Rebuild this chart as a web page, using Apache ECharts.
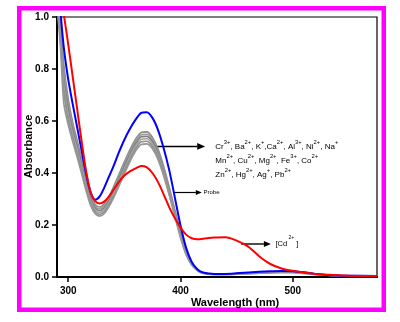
<!DOCTYPE html>
<html>
<head>
<meta charset="utf-8">
<script src="https://cdn.jsdelivr.net/npm/echarts@6/dist/echarts.min.js"></script>
<style>
  html, body { margin: 0; padding: 0; background: #fff; }
  #chart { width: 400px; height: 322px; }
</style>
</head>
<body>
<div id="chart"></div>
<script>
// Wavelength grid (nm) shared by every spectrum
const wavelengths = [290, 293, 296, 300, 304, 308, 312, 316, 320, 324, 328, 332, 336, 340, 345, 350, 355, 360, 365, 370, 375, 380, 385, 390, 395, 400, 405, 410, 415, 420, 430, 440, 450, 460, 470, 480, 490, 500, 510, 520, 535, 550, 575];

// Free probe
const probe = [1.22, 1.03, 0.885, 0.76, 0.665, 0.575, 0.485, 0.395, 0.325, 0.297, 0.31, 0.343, 0.383, 0.423, 0.478, 0.528, 0.57, 0.605, 0.631, 0.634, 0.612, 0.565, 0.495, 0.41, 0.305, 0.198, 0.112, 0.058, 0.03, 0.017, 0.012, 0.012, 0.014, 0.017, 0.02, 0.022, 0.023, 0.022, 0.018, 0.012, 0.007, 0.005, 0.004];

// Probe + Cd2+
const cdComplex = [1.2, 1.1, 1.012, 0.895, 0.77, 0.645, 0.52, 0.405, 0.325, 0.292, 0.283, 0.29, 0.308, 0.333, 0.365, 0.39, 0.406, 0.418, 0.427, 0.422, 0.4, 0.365, 0.318, 0.268, 0.226, 0.19, 0.163, 0.149, 0.145, 0.147, 0.152, 0.153, 0.14, 0.118, 0.08, 0.05, 0.033, 0.024, 0.017, 0.012, 0.008, 0.005, 0.004];

// Probe + the other metal ions
const ionSet1 = [1.14, 0.99, 0.82, 0.685, 0.595, 0.525, 0.455, 0.38, 0.315, 0.279, 0.269, 0.281, 0.308, 0.343, 0.393, 0.443, 0.49, 0.53, 0.556, 0.558, 0.537, 0.492, 0.425, 0.345, 0.258, 0.172, 0.098, 0.052, 0.028, 0.017, 0.012, 0.012, 0.013, 0.015, 0.017, 0.019, 0.02, 0.02, 0.017, 0.012, 0.007, 0.005, 0.003];
const ionSet2 = [1.12, 0.97, 0.79, 0.665, 0.58, 0.512, 0.443, 0.37, 0.306, 0.271, 0.262, 0.273, 0.3, 0.334, 0.384, 0.434, 0.481, 0.521, 0.547, 0.549, 0.528, 0.483, 0.416, 0.337, 0.252, 0.167, 0.095, 0.05, 0.027, 0.016, 0.011, 0.011, 0.013, 0.015, 0.017, 0.018, 0.019, 0.019, 0.016, 0.011, 0.007, 0.005, 0.003];
const ionSet3 = [1.1, 0.95, 0.765, 0.645, 0.565, 0.5, 0.432, 0.36, 0.298, 0.264, 0.255, 0.266, 0.292, 0.326, 0.375, 0.425, 0.472, 0.512, 0.539, 0.541, 0.52, 0.475, 0.409, 0.331, 0.247, 0.163, 0.093, 0.049, 0.027, 0.016, 0.011, 0.011, 0.012, 0.014, 0.016, 0.018, 0.019, 0.019, 0.016, 0.011, 0.006, 0.004, 0.003];
const ionSet4 = [1.08, 0.93, 0.74, 0.625, 0.55, 0.487, 0.42, 0.35, 0.29, 0.257, 0.248, 0.259, 0.284, 0.317, 0.366, 0.416, 0.463, 0.503, 0.53, 0.532, 0.511, 0.467, 0.402, 0.325, 0.242, 0.159, 0.09, 0.048, 0.026, 0.015, 0.01, 0.01, 0.012, 0.014, 0.016, 0.017, 0.018, 0.018, 0.015, 0.011, 0.006, 0.004, 0.003];
const ionSet5 = [1.06, 0.91, 0.715, 0.605, 0.535, 0.474, 0.408, 0.34, 0.282, 0.25, 0.241, 0.251, 0.276, 0.308, 0.356, 0.406, 0.453, 0.493, 0.52, 0.522, 0.502, 0.459, 0.395, 0.319, 0.237, 0.155, 0.088, 0.047, 0.025, 0.015, 0.01, 0.01, 0.011, 0.013, 0.015, 0.017, 0.018, 0.018, 0.015, 0.01, 0.006, 0.004, 0.003];
const ionSet6 = [1.04, 0.89, 0.67, 0.585, 0.52, 0.46, 0.396, 0.33, 0.274, 0.243, 0.234, 0.244, 0.268, 0.3, 0.347, 0.397, 0.444, 0.484, 0.51, 0.512, 0.493, 0.451, 0.388, 0.313, 0.232, 0.151, 0.086, 0.046, 0.025, 0.015, 0.01, 0.01, 0.011, 0.013, 0.015, 0.016, 0.017, 0.017, 0.014, 0.01, 0.006, 0.004, 0.003];

// Axis ticks
const xTicks = [300, 400, 500];

// Ions giving the grey spectra, as [text before charge, charge]
const ionRows = [
  [['Cr', '3+'], [', Ba', '2+'], [', K', '+'], [',Ca', '2+'], [', Al', '3+'], [', Ni', '2+'], [', Na', '+']],
  [['Mn', '2+'], [', Cu', '2+'], [', Mg', '2+'], [', Fe', '3+'], [', Co', '2+']],
  [['Zn', '2+'], [', Hg', '2+'], [', Ag', '+'], [', Pb', '2+']]
];

const FONT = '"Liberation Sans", Arial, sans-serif';
const chart = echarts.init(document.getElementById('chart'), null, { renderer: 'canvas' });
const pairs = arr => wavelengths.map((w, i) => [w, arr[i]]);

const graySets = [ionSet1, ionSet2, ionSet3, ionSet4, ionSet5, ionSet6];
const grayColors = ['#8a8a8a', '#9a9a9a', '#808080', '#a3a3a3', '#8f8f8f', '#969696'];

const lineSeries = (name, arr, color, width) => ({
  type: 'line', name, data: pairs(arr), smooth: 0.3, symbol: 'none', clip: true,
  lineStyle: { color, width }, emphasis: { disabled: true }
});

chart.setOption({
  animation: false,
  grid: { left: 57, right: 23, top: 17, bottom: 45, show: true, borderColor: '#000', borderWidth: 1.2 },
  xAxis: {
    type: 'value', min: 290, max: 575,
    axisLine: { show: true, lineStyle: { color: '#000', width: 2 } },
    axisTick: { show: true, customValues: xTicks, length: 5, lineStyle: { color: '#000', width: 1.5 } },
    axisLabel: { customValues: xTicks, color: '#000', fontWeight: 'bold', fontSize: 10, fontFamily: FONT, margin: 9 },
    splitLine: { show: false }
  },
  yAxis: {
    type: 'value', min: 0, max: 1, interval: 0.2,
    axisLine: { show: true, lineStyle: { color: '#000', width: 2 } },
    axisTick: { show: true, length: 5, lineStyle: { color: '#000', width: 1.5 } },
    axisLabel: { color: '#000', fontWeight: 'bold', fontSize: 10, fontFamily: FONT, margin: 8,
      formatter: v => v.toFixed(1) },
    splitLine: { show: false }
  },
  series: [
    ...graySets.map((g, i) => lineSeries('Ion set ' + (i + 1), g, grayColors[i], 1.6)),
    lineSeries('Probe', probe, '#0000ff', 2),
    lineSeries('Cd2+', cdComplex, '#ff0000', 2)
  ]
});

// Annotations anchored in data coordinates
const px = (nm, a) => chart.convertToPixel({ gridIndex: 0 }, [nm, a]);

function arrow(from, to, head, width) {
  const a = px(from[0], from[1]);
  const b = px(to[0], to[1]);
  return [
    { type: 'line', shape: { x1: a[0], y1: a[1], x2: b[0] - head, y2: b[1] },
      style: { stroke: '#000', lineWidth: width }, silent: true },
    { type: 'polygon', shape: { points: [[b[0], b[1]], [b[0] - head, b[1] - head * 0.42], [b[0] - head, b[1] + head * 0.42]] },
      style: { fill: '#000' }, silent: true }
  ];
}

// Text runs with raised charges, laid out piece by piece
const measureCtx = document.createElement('canvas').getContext('2d');
function textWidth(str, font) { measureCtx.font = font; return measureCtx.measureText(str).width; }

function chargedText(x, y, parts, size, supSize, rise) {
  const baseFont = size + 'px ' + FONT;
  const supFont = supSize + 'px ' + FONT;
  const out = [];
  let cx = x;
  const piece = (str, font, yy) => ({
    type: 'text', x: cx, y: yy, silent: true,
    style: { text: str, font, fill: '#000', align: 'left', textAlign: 'left', verticalAlign: 'middle', textVerticalAlign: 'middle' }
  });
  parts.forEach(([b, s]) => {
    if (b) { out.push(piece(b, baseFont, y)); cx += textWidth(b, baseFont); }
    if (s) { out.push(piece(s, supFont, y - rise)); cx += textWidth(s, supFont); }
  });
  return out;
}

const ionPos = px(431, 0.502);
const probePos = px(420.5, 0.325);
const cdPos = px(484.5, 0.127);

const ionLabels = [];
ionRows.forEach((row, r) => {
  ionLabels.push(...chargedText(ionPos[0], ionPos[1] + r * 14, row, 8, 5.8, 4.2));
});

chart.setOption({
  graphic: [
    { type: 'rect', shape: { x: 19.25, y: 8.25, width: 364.5, height: 301.5 },
      style: { fill: 'none', stroke: '#ff00ff', lineWidth: 4.5 }, silent: true },
    ...arrow([377, 0.502], [422, 0.502], 8, 1.6),
    ...arrow([393.5, 0.325], [419, 0.325], 6, 1.2),
    ...arrow([454, 0.127], [480.5, 0.127], 7, 1.4),
    ...ionLabels,
    { type: 'text', x: probePos[0], y: probePos[1], silent: true,
      style: { text: 'Probe', font: '6px ' + FONT, fill: '#000', align: 'left', textAlign: 'left', verticalAlign: 'middle', textVerticalAlign: 'middle' } },
    ...chargedText(cdPos[0], cdPos[1], [['[Cd', ' 2+'], [' ]', '']], 7.5, 5, 6),
    { type: 'text', x: 28.5, y: 146.5, rotation: Math.PI / 2, silent: true,
      style: { text: 'Absorbance', font: 'bold 11px ' + FONT, fill: '#000', align: 'center', textAlign: 'center', verticalAlign: 'middle', textVerticalAlign: 'middle' } },
    { type: 'text', x: 235, y: 303, silent: true,
      style: { text: 'Wavelength (nm)', font: 'bold 11px ' + FONT, fill: '#000', align: 'center', textAlign: 'center', verticalAlign: 'middle', textVerticalAlign: 'middle' } }
  ]
});
</script>
</body>
</html>
